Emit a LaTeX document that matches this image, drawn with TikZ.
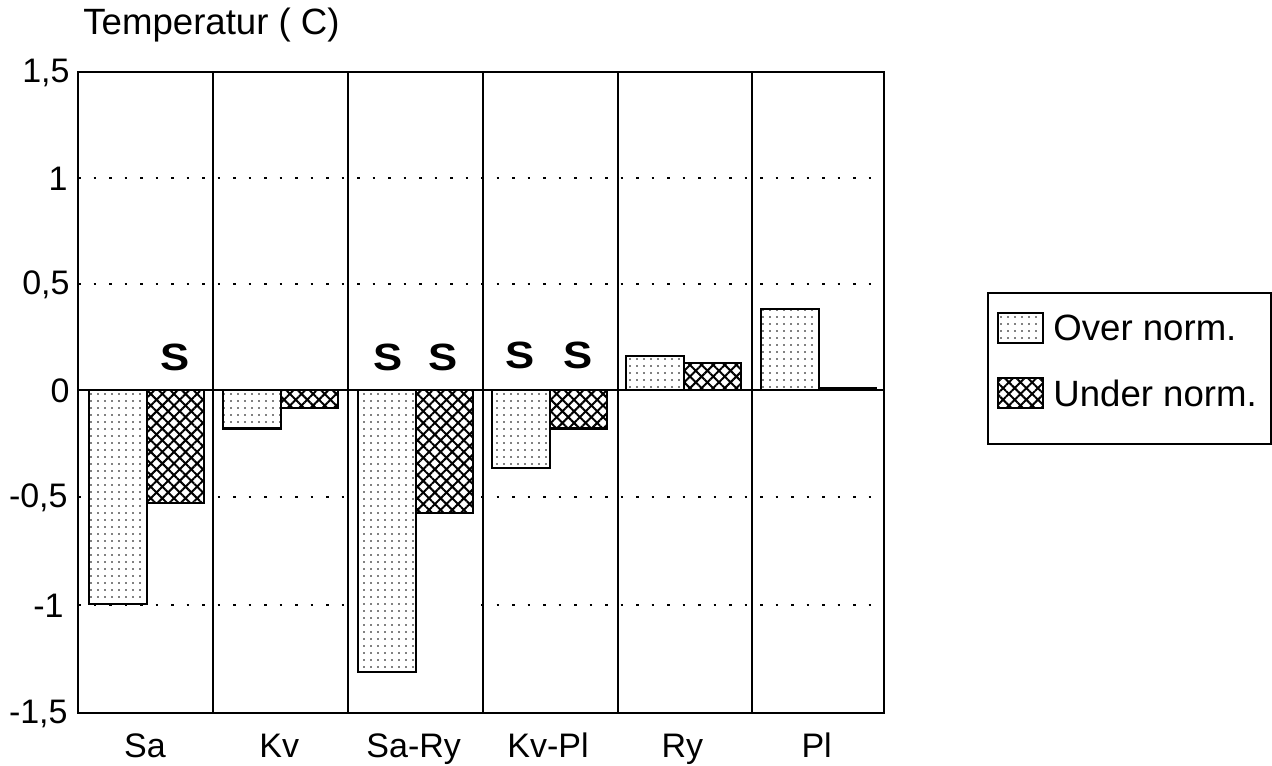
\documentclass[tikz,border=0pt]{standalone}
\usepackage{fontspec}
\setmainfont{Liberation Sans}
\usetikzlibrary{patterns.meta}
\tikzset{
  axisline/.style={line width=1pt},
  gridline/.style={line width=1.4pt, dash pattern=on 1.4pt off 6.35pt},
  overfill/.style={pattern={Dots[distance=3.5pt, radius=0.42pt]}, pattern color=black},
  underfill/.style={pattern={Hatch[distance=4.1pt, angle=45, line width=1pt]}, pattern color=black},
  barline/.style={line width=1.1pt},
  lbl/.style={inner sep=0pt, font=\fontsize{17pt}{20pt}\selectfont},
  biglbl/.style={inner sep=0pt, font=\fontsize{18.3pt}{21pt}\selectfont},
  sigmark/.style={inner sep=0pt, font=\fontsize{19pt}{22pt}\selectfont\bfseries},
}
\begin{document}
\begin{tikzpicture}[x=0.5pt, y=-0.5pt]
\useasboundingbox (0,0) rectangle (1272,765);
\fill[white] (0,0) rectangle (1272,765);
% grid
\foreach \gy in {178,284,497,605}
  \draw[gridline] (78,\gy) -- (884,\gy);
% bars
\foreach \i/\o/\u in {0/-1.0/-0.53, 1/-0.18/-0.085, 2/-1.32/-0.575, 3/-0.365/-0.18, 4/0.16/0.126, 5/0.38/0.01}{
  \pgfmathsetmacro{\cl}{78+134.33*\i}
  \fill[white] ({\cl+11},390) rectangle ({\cl+126},{390-213.7*min(\o,\u)});
  \fill[white] ({\cl+11},390) rectangle ({\cl+126},{390-213.7*max(\o,\u)});
  \path[overfill] ({\cl+11},390) rectangle ({\cl+69},{390-213.7*\o});
  \draw[barline] ({\cl+11},390) rectangle ({\cl+69},{390-213.7*\o});
  \path[underfill] ({\cl+69},390) rectangle ({\cl+126},{390-213.7*\u});
  \draw[barline] ({\cl+69},390) rectangle ({\cl+126},{390-213.7*\u});
}
% frame, columns, zero line
\draw[axisline] (78,72) rectangle (884,713);
\foreach \cx in {213,348,483,618,752}
  \draw[axisline] (\cx,72) -- (\cx,713);
\draw[axisline] (78,390) -- (884,390);
% axis title and tick labels
\node[biglbl, anchor=base west] (ytitle) at (83,35) {Temperatur ( C)};
\node[lbl, anchor=east] (t1) at (70,73) {1,5};
\node[lbl, anchor=east] (t2) at (68,179) {1};
\node[lbl, anchor=east] (t3) at (70,285) {0,5};
\node[lbl, anchor=east] (t4) at (70,391) {0};
\node[lbl, anchor=east] (t5) at (68,498) {-0,5};
\node[lbl, anchor=east] (t6) at (64,606) {-1};
\node[lbl, anchor=east] (t7) at (68,714) {-1,5};
% category labels
\foreach \i/\nm in {0/Sa, 1/Kv, 2/Sa-Ry, 3/Kv-Pl, 4/Ry, 5/Pl}
  \node[lbl, anchor=base] (cat\i) at ({78+134.33*\i+67},757) {\nm};
% significance marks
\node[sigmark] (s1) at (175,357) {\scalebox{1.15}[1]{S}};
\node[sigmark] (s2) at (388,357) {\scalebox{1.15}[1]{S}};
\node[sigmark] (s3) at (443,357) {\scalebox{1.15}[1]{S}};
\node[sigmark] (s4) at (520,355) {\scalebox{1.15}[1]{S}};
\node[sigmark] (s5) at (578,355) {\scalebox{1.15}[1]{S}};
% legend
\draw[axisline] (988,293) rectangle (1271,444);
\fill[white] (998,313) rectangle (1043,343);
\path[overfill] (998,313) rectangle (1043,343);
\draw[line width=0.8pt] (998,313) rectangle (1043,343);
\path[underfill] (998,378) rectangle (1043,408);
\draw[line width=0.8pt] (998,378) rectangle (1043,408);
\node[biglbl, anchor=west] (leg1) at (1053,328) {Over norm.};
\node[biglbl, anchor=west] (leg2) at (1053,393) {Under norm.};
\end{tikzpicture}
\end{document}
